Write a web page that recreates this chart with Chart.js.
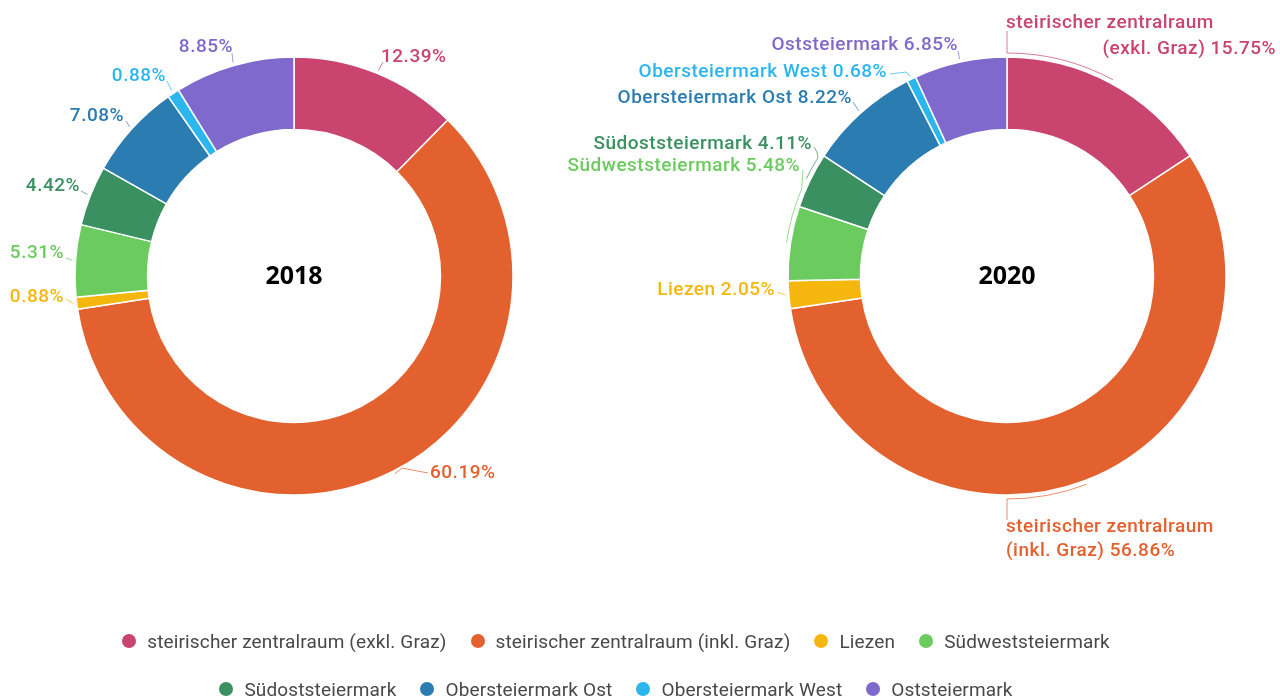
<!DOCTYPE html>
<html>
<head>
<meta charset="utf-8">
<script src="https://cdn.jsdelivr.net/npm/chart.js@4/dist/chart.umd.min.js"></script>
<style>
html,body{margin:0;padding:0;background:#fff;width:1280px;height:698px;overflow:hidden;}
#wrap{position:relative;width:1280px;height:698px;}
#wrap canvas{position:absolute;left:0;top:0;}
.lrow{position:absolute;left:-24px;width:1280px;display:flex;justify-content:center;align-items:center;
  font-family:Roboto,"Liberation Sans",sans-serif;font-size:19px;letter-spacing:0.15px;color:#484848;height:24px;}
.litem{display:flex;align-items:center;margin:0 12px;white-space:nowrap;}
.ldot{width:14px;height:14px;border-radius:50%;margin-right:11px;display:inline-block;}
</style>
</head>
<body>
<div id="wrap">
  <canvas id="c2018" width="1280" height="698"></canvas>
  <canvas id="c2020" width="1280" height="698"></canvas>
  <div class="lrow" id="row1" style="top:629px"></div>
  <div class="lrow" id="row2" style="top:677px"></div>
</div>
<script>
// ---- data ----
const categories = [
  "steirischer zentralraum (exkl. Graz)",
  "steirischer zentralraum (inkl. Graz)",
  "Liezen",
  "Südweststeiermark",
  "Südoststeiermark",
  "Obersteiermark Ost",
  "Obersteiermark West",
  "Oststeiermark"
];
const values2018 = [12.39, 60.19, 0.88, 5.31, 4.42, 7.08, 0.88, 8.85];
const values2020 = [15.75, 56.86, 2.05, 5.48, 4.11, 8.22, 0.68, 6.85];
const years = ["2018", "2020"];
const colors = ["#c9446f", "#e3602f", "#f5b70d", "#6bcb5e", "#3a9060", "#2b7cb0", "#2cb6ee", "#7f69cc"];
const legendRows = [[0, 1, 2, 3], [4, 5, 6, 7]];

// ---- label layout (offsets relative to the donut centre) ----
const layout2018 = [
  {lines:[{dx:87, dy:-219, align:"left"}], pts:[[89,-214]]},
  {lines:[{dx:136, dy:197, align:"left"}], pts:[[108,192],[134,197]]},
  {lines:[{dx:-230, dy:21, align:"right"}], pts:[[-228,23]]},
  {lines:[{dx:-230, dy:-23, align:"right"}], pts:[[-228,-18]]},
  {lines:[{dx:-214, dy:-90, align:"right"}], pts:[[-213,-85]]},
  {lines:[{dx:-170, dy:-160, align:"right"}], pts:[[-168,-155]]},
  {lines:[{dx:-128, dy:-200, align:"right"}], pts:[[-127,-195]]},
  {lines:[{dx:-61, dy:-229, align:"right"}], pts:[[-62,-223]]}
];
const layout2020 = [
  {split:true, lines:[{dx:-1, dy:-253, align:"left"},{dx:269, dy:-227, align:"right"}], bracketTo:0, pts:[[0,-245]]},
  {split:true, lines:[{dx:-1, dy:251, align:"left"},{dx:-1, dy:275, align:"left"}], bracketTo:180, pts:[[0,244]]},
  {lines:[{dx:-232, dy:14, align:"right"}], pts:[[-230,16]]},
  {lines:[{dx:-207, dy:-110, align:"right"}], bracketTo:293, pts:[[-204,-106]]},
  {lines:[{dx:-195, dy:-132, align:"right"}], bracketTo:302, pts:[[-190,-124],[-193,-129]]},
  {lines:[{dx:-155, dy:-178, align:"right"}], pts:[[-154,-174]]},
  {lines:[{dx:-120, dy:-204, align:"right"}], pts:[[-101,-204],[-117,-202]]},
  {lines:[{dx:-49, dy:-231, align:"right"}], pts:[[-49,-225]]}
];

const fmt = v => v.toFixed(2) + "%";

const sliceLabels = {
  id: "sliceLabels",
  afterDatasetsDraw(chart, args, opts) {
    const ctx = chart.ctx;
    const meta = chart.getDatasetMeta(0);
    const vals = chart.data.datasets[0].data;
    opts.layout.forEach((it, i) => {
      const arc = meta.data[i];
      const p = arc.getProps(["x","y","startAngle","endAngle","outerRadius"], true);
      const cx = p.x, cy = p.y;
      const mid = (p.startAngle + p.endAngle) / 2;
      const r0 = p.outerRadius + 3;
      ctx.save();
      ctx.strokeStyle = colors[i];
      ctx.globalAlpha = 0.7;
      ctx.lineWidth = 1;
      ctx.beginPath();
      if (it.bracketTo !== undefined) {
        const a2 = (it.bracketTo - 90) * Math.PI / 180;
        const a1 = mid;
        ctx.arc(cx, cy, r0 + 1, a1, a2, a2 < a1);
      } else {
        ctx.moveTo(cx + Math.cos(mid) * r0, cy + Math.sin(mid) * r0);
      }
      it.pts.forEach(q => ctx.lineTo(cx + q[0], cy + q[1]));
      ctx.stroke();
      ctx.restore();

      let texts;
      if (opts.withName) {
        const name = categories[i];
        if (it.split) {
          const k = name.indexOf(" (");
          texts = [name.slice(0, k), name.slice(k + 1) + " " + fmt(vals[i])];
        } else {
          texts = [name + " " + fmt(vals[i])];
        }
      } else {
        texts = [fmt(vals[i])];
      }
      ctx.save();
      ctx.fillStyle = colors[i];
      ctx.font = "500 19px Roboto";
      if ("letterSpacing" in ctx) ctx.letterSpacing = "0.5px";
      ctx.textBaseline = "middle";
      it.lines.forEach((ln, j) => {
        ctx.textAlign = ln.align;
        ctx.fillText(texts[j], cx + ln.dx, cy + ln.dy);
      });
      ctx.restore();
    });
    // centre title
    const a0 = meta.data[0];
    ctx.save();
    ctx.fillStyle = "#000";
    ctx.font = "bold 25px 'Open Sans'";
    ctx.textAlign = "center";
    ctx.textBaseline = "middle";
    ctx.fillText(opts.title, a0.x, a0.y + 1);
    ctx.restore();
  }
};

function makeChart(id, values, title, layout, withName, padLeft, padRight) {
  return new Chart(document.getElementById(id), {
    type: "doughnut",
    data: {
      labels: categories,
      datasets: [{
        data: values,
        backgroundColor: colors,
        borderColor: "#ffffff",
        borderWidth: 1.5
      }]
    },
    options: {
      responsive: false,
      animation: false,
      devicePixelRatio: 1,
      radius: 219,
      cutout: 146,
      layout: {padding: {left: padLeft, right: padRight, top: 57, bottom: 203}},
      plugins: {
        legend: {display: false},
        tooltip: {enabled: false},
        sliceLabels: {layout: layout, withName: withName, title: title}
      }
    },
    plugins: [sliceLabels]
  });
}

makeChart("c2018", values2018, years[0], layout2018, false, 75, 767);
makeChart("c2020", values2020, years[1], layout2020, true, 788, 54);

// ---- legend ----
legendRows.forEach((row, r) => {
  const el = document.getElementById("row" + (r + 1));
  row.forEach(i => {
    const item = document.createElement("span");
    item.className = "litem";
    const dot = document.createElement("span");
    dot.className = "ldot";
    dot.style.background = colors[i];
    item.appendChild(dot);
    item.appendChild(document.createTextNode(categories[i]));
    el.appendChild(item);
  });
});
</script>
</body>
</html>
